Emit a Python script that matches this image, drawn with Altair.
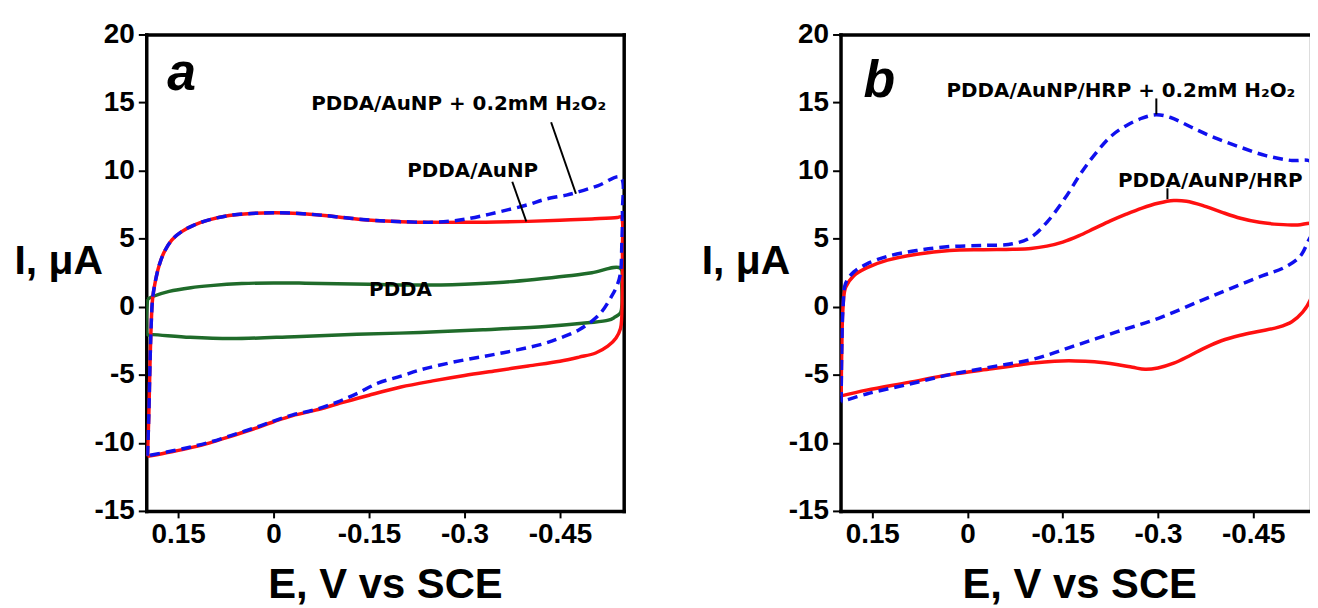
import altair as alt
import pandas as pd

# ---------------- Panel a data (E in V vs SCE, I in uA) ----------------
a_pdda_E = [0.198, 0.19, 0.164, 0.13, 0.099, 0.05, 0.0, -0.05, -0.1, -0.15, -0.2, -0.263, -0.3, -0.361,
            -0.41, -0.46, -0.5, -0.545, -0.547, -0.547, -0.545, -0.535, -0.526, -0.493, -0.427, -0.329,
            -0.23, -0.131, -0.033, 0.066, 0.131, 0.19, 0.198, 0.198]
a_pdda_I = [0.55, 0.75, 1.13, 1.4, 1.55, 1.7, 1.75, 1.73, 1.69, 1.65, 1.6, 1.6, 1.65, 1.8,
            2.0, 2.25, 2.5, 2.82, 1.5, 0.0, -0.45, -0.8, -0.99, -1.18, -1.45, -1.69,
            -1.89, -2.03, -2.2, -2.34, -2.25, -2.05, -2.05, 0.55]

a_aunp_E = [0.198, 0.196, 0.194, 0.192, 0.190, 0.186, 0.180, 0.172, 0.160, 0.145, 0.125, 0.10, 0.07,
            0.035, 0.0, -0.04, -0.08, -0.12, -0.16, -0.2, -0.25, -0.3, -0.35, -0.4, -0.45, -0.5, -0.54,
            -0.546, -0.548, -0.548, -0.547, -0.545, -0.538, -0.525, -0.506, -0.48, -0.45, -0.4, -0.35,
            -0.3, -0.25, -0.2, -0.15, -0.1, -0.066, -0.03, 0.0, 0.033, 0.066, 0.1, 0.13, 0.16, 0.198]
a_aunp_I = [-10.99, -8.0, -4.0, -1.0, 0.6, 1.8, 3.0, 4.0, 4.9, 5.5, 6.0, 6.4, 6.7,
            6.85, 6.9, 6.85, 6.7, 6.5, 6.33, 6.25, 6.2, 6.2, 6.22, 6.27, 6.35, 6.45, 6.55,
            6.6, 4.0, 1.0, -0.8, -1.6, -2.3, -2.9, -3.4, -3.7, -4.0, -4.35, -4.7,
            -5.05, -5.45, -5.9, -6.5, -7.15, -7.6, -8.0, -8.45, -9.0, -9.5, -10.0, -10.35, -10.65, -10.99]

a_h2o2_E = [0.198, 0.196, 0.194, 0.192, 0.190, 0.186, 0.180, 0.172, 0.160, 0.145, 0.125, 0.10, 0.07,
            0.035, 0.0, -0.04, -0.08, -0.12, -0.16, -0.2, -0.25, -0.28, -0.3, -0.33, -0.361, -0.4,
            -0.427, -0.46, -0.48, -0.51, -0.545, -0.548, -0.547, -0.545, -0.54, -0.532, -0.512, -0.48,
            -0.45, -0.427, -0.4, -0.361, -0.33, -0.296, -0.26, -0.23, -0.2, -0.165, -0.13, -0.1, -0.066,
            -0.03, 0.0, 0.033, 0.066, 0.1, 0.13, 0.16, 0.198]
a_h2o2_I = [-10.95, -8.0, -4.0, -1.0, 0.6, 1.8, 3.0, 4.0, 4.9, 5.5, 6.0, 6.4, 6.7,
            6.85, 6.9, 6.85, 6.7, 6.5, 6.33, 6.25, 6.2, 6.3, 6.42, 6.7, 7.04, 7.5,
            7.9, 8.2, 8.45, 8.9, 9.52, 7.0, 4.5, 2.5, 1.6, 0.85, -0.56, -1.69,
            -2.3, -2.68, -3.0, -3.38, -3.65, -3.94, -4.3, -4.65, -5.1, -5.6, -6.4, -7.0, -7.55,
            -7.95, -8.4, -8.95, -9.45, -9.95, -10.3, -10.6, -10.95]

a_text = ["PDDA/AuNP + 0.2mM H\u2082O\u2082", "PDDA/AuNP", "PDDA"]
a_text_E = [-0.059, -0.21, -0.15]
a_text_I = [14.42, 9.54, 0.79]
a_lead_E1 = [-0.436, -0.375]
a_lead_I1 = [13.55, 9.18]
a_lead_E2 = [-0.475, -0.397]
a_lead_I2 = [8.3, 6.26]
a_letter = ["a"]
a_letter_E = [0.167]
a_letter_I = [15.9]

# ---------------- Panel b data ----------------
b_hrp_E = [0.199, 0.198, 0.196, 0.192, 0.179, 0.159, 0.126, 0.08, 0.028, -0.025, -0.071, -0.1,
           -0.125, -0.15, -0.175, -0.2, -0.225, -0.25, -0.275, -0.3, -0.325, -0.345, -0.37, -0.4,
           -0.43, -0.46, -0.49, -0.52, -0.543, -0.548, -0.548, -0.546, -0.540, -0.528, -0.511, -0.49,
           -0.46, -0.43, -0.4, -0.375, -0.35, -0.325, -0.3, -0.28, -0.26, -0.235, -0.2, -0.17, -0.137,
           -0.104, -0.07, -0.038, 0.028, 0.093, 0.159, 0.199]
b_hrp_I = [-6.55, -3.0, 0.0, 1.42, 2.28, 2.85, 3.42, 3.85, 4.13, 4.19, 4.22, 4.28,
           4.45, 4.75, 5.2, 5.75, 6.3, 6.8, 7.25, 7.6, 7.8, 7.75, 7.45, 6.95,
           6.5, 6.2, 6.05, 6.0, 6.1, 5.5, 3.0, 1.5, 0.5, -0.4, -1.1, -1.5,
           -1.8, -2.1, -2.5, -3.0, -3.6, -4.15, -4.5, -4.6, -4.45, -4.25, -4.05, -3.98, -4.0,
           -4.13, -4.35, -4.56, -4.99, -5.56, -6.13, -6.55]

b_h2o2_E = [0.199, 0.198, 0.196, 0.192, 0.179, 0.159, 0.126, 0.08, 0.028, -0.025, -0.071, -0.1,
            -0.125, -0.154, -0.18, -0.206, -0.228, -0.25, -0.275, -0.297, -0.32, -0.352, -0.39,
            -0.431, -0.47, -0.509, -0.543, -0.548, -0.546, -0.537, -0.524, -0.498, -0.465, -0.419,
            -0.367, -0.301, -0.235, -0.17, -0.104, -0.038, 0.028, 0.093, 0.159, 0.199]
b_h2o2_I = [-6.98, -3.0, 0.0, 1.71, 2.56, 3.13, 3.7, 4.13, 4.42, 4.5, 4.62, 5.1,
            6.2, 8.0, 9.9, 11.5, 12.6, 13.3, 13.85, 14.1, 13.9, 13.2, 12.4,
            11.7, 11.1, 10.75, 10.6, 8.0, 5.7, 4.84, 3.7, 2.85, 2.28, 1.42,
            0.43, -0.85, -1.85, -2.85, -3.85, -4.42, -4.99, -5.7, -6.41, -6.98]

b_text = ["PDDA/AuNP/HRP + 0.2mM H\u2082O\u2082", "PDDA/AuNP/HRP"]
b_text_E = [0.033, -0.237]
b_text_I = [15.4, 8.8]
b_lead_E1 = [-0.2975, -0.315]
b_lead_I1 = [15.3, 8.7]
b_lead_E2 = [-0.2975, -0.315]
b_lead_I2 = [14.13, 7.9]
b_letter = ["b"]
b_letter_E = [0.164]
b_letter_I = [15.38]

x_ticks = [0.15, 0.0, -0.15, -0.3, -0.45]
y_ticks = [-15, -10, -5, 0, 5, 10, 15, 20]

FONT = "Liberation Sans, Arial, DejaVu Sans"
ANN_FONT = "DejaVu Sans"
RED = "#ff1010"
BLUE = "#1010ee"
GREEN = "#1f6b2a"


def curve(E, I):
    return pd.DataFrame({"E": E, "I": I, "k": list(range(len(E)))})


def panel(curves, texts, leads, letter, xdom, width, ytitle_x, right_frame):
    xs = alt.Scale(domain=xdom, reverse=True, nice=False, zero=False)
    ys = alt.Scale(domain=[-15, 20], nice=False, zero=False)

    x_axis = alt.Axis(values=x_ticks, labelExpr="'' + datum.value", title="E, V vs SCE",
                      orient="bottom", grid=False, domainWidth=3.5, domainColor="black",
                      domainCap="square", tickColor="black", tickWidth=2, tickSize=7,
                      labelFont=FONT, labelFontWeight="bold", labelFontSize=28,
                      labelColor="black", labelPadding=3, labelFlush=False, labelOverlap=False,
                      titleFont=FONT, titleFontSize=42, titleFontWeight="bold", titleColor="black",
                      titleX=240, titleY=87, titleBaseline="alphabetic", titleAlign="center")
    y_axis = alt.Axis(values=y_ticks, labelExpr="'' + datum.value", title="I, \u03bcA",
                      orient="left", grid=False, domainWidth=3.5, domainColor="black",
                      domainCap="square", tickColor="black", tickWidth=2, tickSize=8,
                      labelFont=FONT, labelFontWeight="bold", labelFontSize=28,
                      labelColor="black", labelPadding=4, labelOverlap=False,
                      titleFont=FONT, titleFontSize=41, titleFontWeight="bold", titleColor="black",
                      titleAngle=0, titleX=ytitle_x, titleY=240, titleAlign="left",
                      titleBaseline="alphabetic")

    base_df = curve(*curves[0][:2])
    axes_layer = alt.Chart(base_df).mark_line(strokeOpacity=0, clip=True).encode(
        x=alt.X("E:Q", scale=xs, axis=x_axis),
        y=alt.Y("I:Q", scale=ys, axis=y_axis),
        order="k:Q")

    frame_x = alt.Axis(orient="top", labels=False, ticks=False, title=None, grid=False,
                       domainWidth=3.5, domainColor="black", domainCap="square")
    if right_frame:
        frame_y = alt.Axis(orient="right", labels=False, ticks=False, title=None, grid=False,
                           domainWidth=3.5, domainColor="black", domainCap="square")
    else:
        frame_y = alt.Axis(orient="right", labels=False, ticks=False, title=None, grid=False,
                           domain=False)
    frame_layer = alt.Chart(base_df).mark_line(strokeOpacity=0, clip=True).encode(
        x=alt.X("E:Q", scale=xs, axis=frame_x),
        y=alt.Y("I:Q", scale=ys, axis=frame_y),
        order="k:Q")

    layers = [axes_layer, frame_layer]
    for E, I, color, dash in curves:
        kw = dict(color=color, strokeWidth=3.5, clip=True, interpolate="catmull-rom")
        if dash:
            kw["strokeDash"] = [10, 6]
        layers.append(alt.Chart(curve(E, I)).mark_line(**kw).encode(
            x=alt.X("E:Q", scale=xs, axis=None),
            y=alt.Y("I:Q", scale=ys, axis=None),
            order="k:Q"))

    E1, I1, E2, I2 = leads
    lead_df = pd.DataFrame({"E1": E1, "I1": I1, "E2": E2, "I2": I2})
    layers.append(alt.Chart(lead_df).mark_rule(color="black", strokeWidth=2).encode(
        x=alt.X("E1:Q", scale=xs, axis=None), x2="E2:Q",
        y=alt.Y("I1:Q", scale=ys, axis=None), y2="I2:Q"))

    t, tE, tI = texts
    text_df = pd.DataFrame({"E": tE, "I": tI, "t": t})
    layers.append(alt.Chart(text_df).mark_text(
        align="left", baseline="alphabetic", font=ANN_FONT, fontWeight="bold", fontSize=20,
        color="black").encode(
        x=alt.X("E:Q", scale=xs, axis=None), y=alt.Y("I:Q", scale=ys, axis=None), text="t:N"))

    l, lE, lI = letter
    let_df = pd.DataFrame({"E": lE, "I": lI, "t": l})
    layers.append(alt.Chart(let_df).mark_text(
        align="left", baseline="alphabetic", font=FONT, fontWeight="bold", fontStyle="italic",
        fontSize=52, color="black").encode(
        x=alt.X("E:Q", scale=xs, axis=None), y=alt.Y("I:Q", scale=ys, axis=None), text="t:N"))

    return alt.layer(*layers).properties(width=width, height=479)


panel_a = panel(
    [(a_pdda_E, a_pdda_I, GREEN, False),
     (a_aunp_E, a_aunp_I, RED, False),
     (a_h2o2_E, a_h2o2_I, BLUE, True)],
    (a_text, a_text_E, a_text_I),
    (a_lead_E1, a_lead_I1, a_lead_E2, a_lead_I2),
    (a_letter, a_letter_E, a_letter_I),
    [-0.55, 0.2], 480, -133, True)

panel_b = panel(
    [(b_hrp_E, b_hrp_I, RED, False),
     (b_h2o2_E, b_h2o2_I, BLUE, True)],
    (b_text, b_text_E, b_text_I),
    (b_lead_E1, b_lead_I1, b_lead_E2, b_lead_I2),
    (b_letter, b_letter_E, b_letter_I),
    [-0.538, 0.2], 471, -140, False)

chart = alt.hconcat(panel_a, panel_b, spacing=76).properties(
    padding={"left": 5, "top": 10, "right": 0, "bottom": 0}
).configure_view(stroke=None).configure(background="white")

chart.save("out.html", embed_options={"renderer": "svg", "actions": False})
